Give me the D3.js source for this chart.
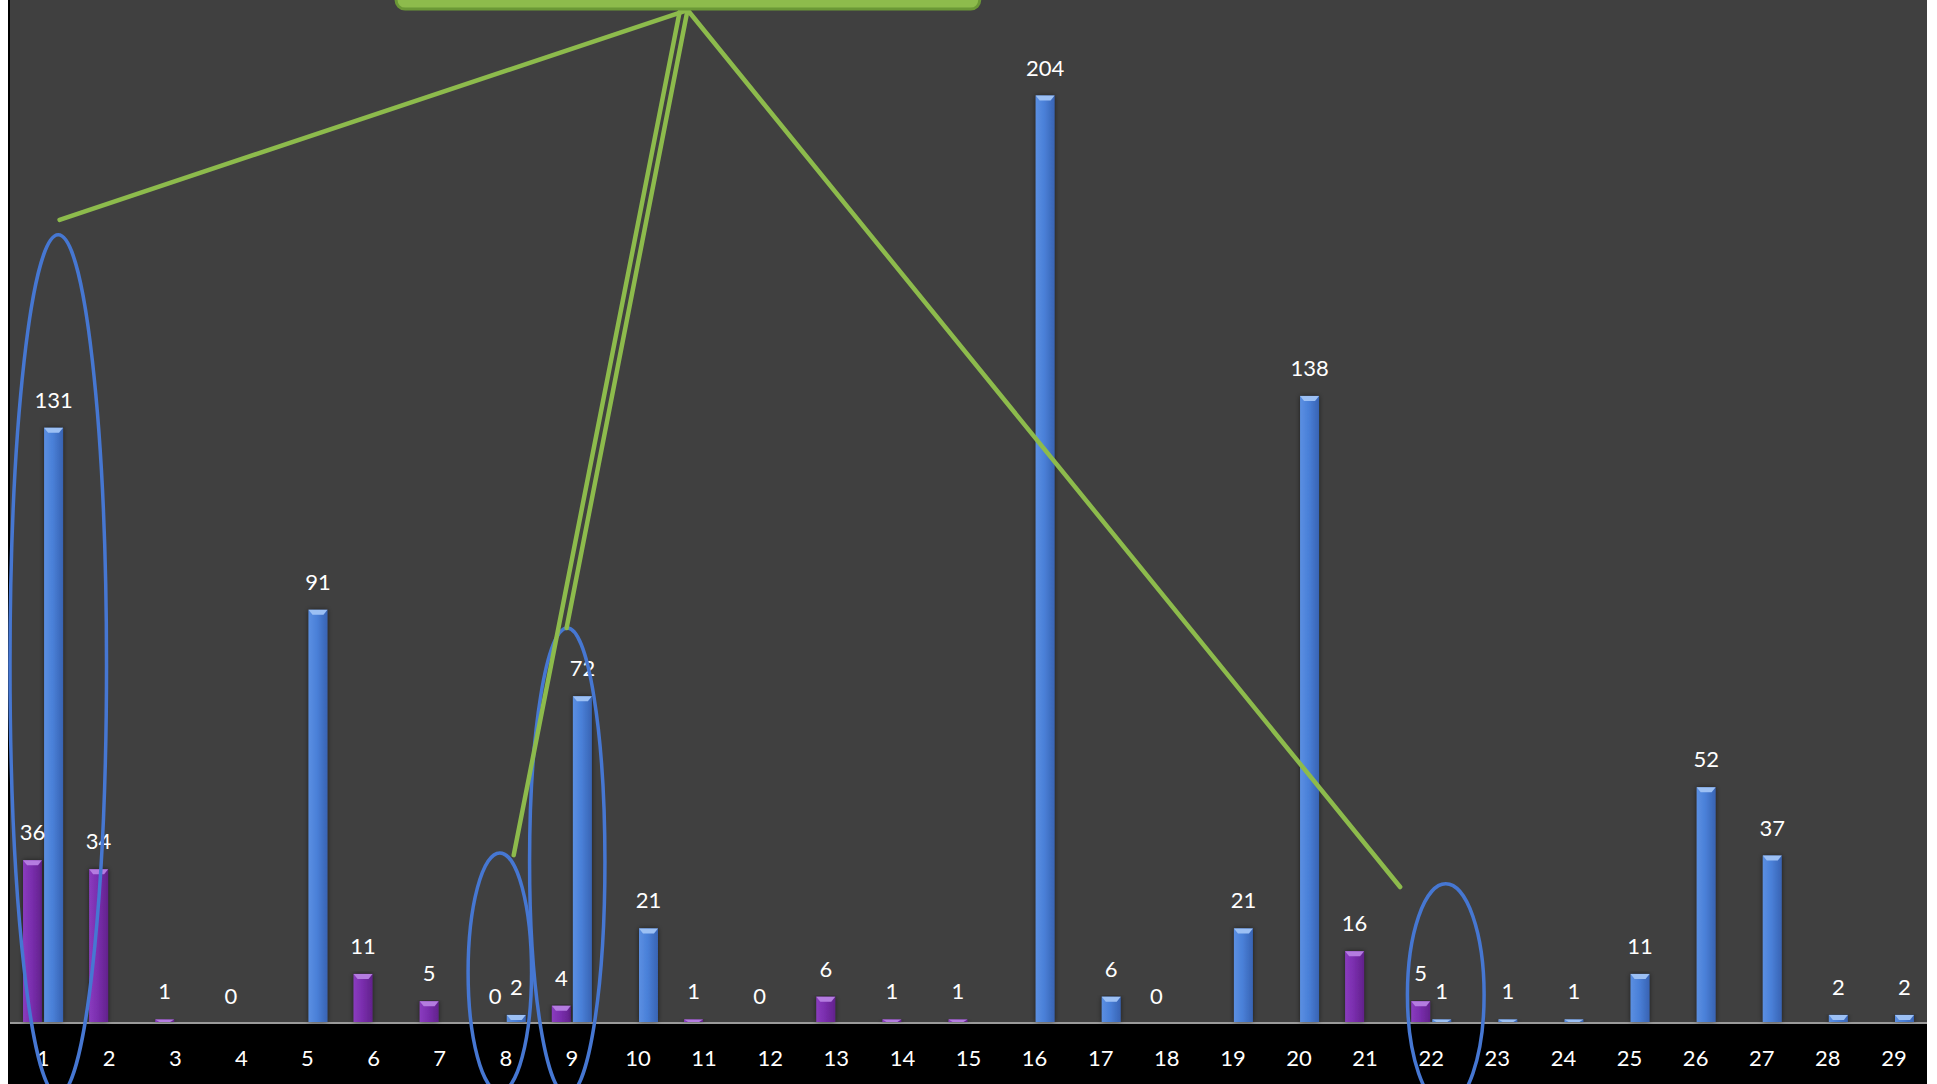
<!DOCTYPE html>
<html>
<head>
<meta charset="utf-8">
<script src="https://cdn.jsdelivr.net/npm/d3@7/dist/d3.min.js"></script>
<style>
  html, body { margin: 0; padding: 0; background: #fff; }
  svg { display: block; }
  text { font-family: Lato, "Open Sans", sans-serif; fill: #fff; }
</style>
</head>
<body>
<svg id="chart"></svg>
<script>
// categories along the bottom
var categories = ["1","2","3","4","5","6","7","8","9","10","11","12","13","14","15",
  "16","17","18","19","20","21","22","23","24","25","26","27","28","29"];

// purple series (left bar), null = no bar / no label
var purpleValues = [36, 34, 1, 0, null, 11, 5, 0, 4, null, 1, 0, 6, 1, 1,
  null, null, 0, null, null, 16, 5, null, null, null, null, null, null, null];

// blue series (right bar)
var blueValues = [131, null, null, null, 91, null, null, 2, 72, 21, null, null, null, null, null,
  204, 6, null, 21, 138, null, 1, 1, 1, 11, 52, 37, 2, 2];

var seriesNames = ["purple", "blue"];

// annotations, in band units (t, from left plot edge) and value units (v)
var ellipses = [
  {name: "e1",  cx: 0.73,  rx: 0.73, top: 173.4, bottom: -15.6},
  {name: "e8",  cx: 7.41,  rx: 0.48, top: 37.6,  bottom: -14.9},
  {name: "e9",  cx: 8.43,  rx: 0.57, top: 87.0,  bottom: -15.6},
  {name: "e22", cx: 21.72, rx: 0.58, top: 30.8,  bottom: -18.0}
];
var calloutBox = {t0: 5.84, t1: 14.67, bottom: 223.0};
var connectors = [
  {from: [10.25, 222.8], to: [0.75, 176.7]},
  {from: [10.13, 222.4], to: [7.62, 37.1]},
  {from: [10.25, 222.8], to: [8.42, 87.0]},
  {from: [10.25, 222.8], to: [21.03, 30.1]}
];

var width = 1937, height = 1084;
var plotLeft = 10, plotRight = 1927, baseY = 1024;

var svg = d3.select("#chart").attr("width", width).attr("height", height);

var x = d3.scaleBand().domain(categories).range([plotLeft, plotRight]).padding(0);
var xSub = d3.scaleBand().domain(seriesNames).range([x.bandwidth()/2 - 20, x.bandwidth()/2 + 20]).paddingInner(0.1);
var y = d3.scaleLinear().domain([0, 225]).range([baseY, 0]);

// band units -> px
function bx(t){ return plotLeft + t * x.step(); }

var defs = svg.append("defs");
function barGradient(id, edge, mid, light){
  var g = defs.append("linearGradient").attr("id", id)
    .attr("x1", "0%").attr("x2", "100%").attr("y1", "0%").attr("y2", "0%");
  g.append("stop").attr("offset", "0%").attr("stop-color", light);
  g.append("stop").attr("offset", "45%").attr("stop-color", mid);
  g.append("stop").attr("offset", "100%").attr("stop-color", edge);
}
barGradient("grad-blue", "#3863b3", "#4a80d8", "#5b8fe2");
barGradient("grad-purple", "#62228c", "#7a2eae", "#8a3cbf");
defs.append("filter").attr("id", "shadow")
  .attr("x", "-50%").attr("y", "-5%").attr("width", "200%").attr("height", "110%")
  .append("feDropShadow").attr("dx", 0).attr("dy", 0).attr("stdDeviation", 2.5)
  .attr("flood-color", "#000").attr("flood-opacity", 0.55);

// background
svg.append("rect").attr("x", 0).attr("y", 0).attr("width", width).attr("height", height).attr("fill", "#fff");
svg.append("rect").attr("x", 8).attr("y", 0).attr("width", plotRight - 8).attr("height", height).attr("fill", "#000");
svg.append("rect").attr("x", plotLeft).attr("y", 0).attr("width", plotRight - plotLeft).attr("height", baseY - 1).attr("fill", "#404040");
svg.append("line").attr("x1", plotLeft).attr("x2", plotRight).attr("y1", baseY - 1).attr("y2", baseY - 1)
  .attr("stroke", "#9a9a9a").attr("stroke-width", 2);

// flatten series for drawing
var barData = [];
categories.forEach(function(c, i){
  if (purpleValues[i] != null) barData.push({cat: c, s: "purple", v: purpleValues[i]});
  if (blueValues[i] != null) barData.push({cat: c, s: "blue", v: blueValues[i]});
});

var capColor = {purple: "#b47ce0", blue: "#9cc0f4"};

var bars = svg.append("g").attr("class", "bars");
bars.selectAll(".bar")
  .data(barData.filter(d => d.v > 0))
 .enter().append("g")
  .attr("class", "bar")
  .each(function(d){
    var g = d3.select(this);
    var bx0 = x(d.cat) + xSub(d.s), bw = xSub.bandwidth();
    var top = y(d.v), h = baseY - 2 - top;
    g.append("rect")
      .attr("x", bx0).attr("y", top).attr("width", bw).attr("height", Math.max(h, 2))
      .attr("fill", "url(#grad-" + d.s + ")")
      .attr("filter", "url(#shadow)");
    var capH = Math.min(5, Math.max(h, 2));
    g.append("polygon")
      .attr("points", [[bx0, top], [bx0 + bw, top], [bx0 + bw - 4, top + capH], [bx0 + 4, top + capH]].map(p => p.join(",")).join(" "))
      .attr("fill", capColor[d.s]);
  });

// data labels
svg.append("g").selectAll(".dataLabel")
  .data(barData)
 .enter().append("text")
  .attr("class", "dataLabel")
  .attr("x", d => x(d.cat) + xSub(d.s) + xSub.bandwidth()/2)
  .attr("y", d => y(d.v) - 20)
  .attr("text-anchor", "middle")
  .style("font-size", "22px")
  .text(d => d.v);

// category axis
var axis = svg.append("g").attr("transform", "translate(0," + baseY + ")")
  .call(d3.axisBottom(x).tickSize(0).tickPadding(0));
axis.select(".domain").remove();
axis.selectAll("text")
  .attr("y", 42)
  .attr("dy", 0)
  .style("font-size", "22px")
  .style("font-family", "Lato, 'Open Sans', sans-serif")
  .attr("fill", "#fff");

// ellipses
svg.append("g").selectAll(".ring")
  .data(ellipses)
 .enter().append("ellipse")
  .attr("class", "ring")
  .attr("cx", d => bx(d.cx))
  .attr("cy", d => (y(d.top) + y(d.bottom)) / 2)
  .attr("rx", d => d.rx * x.step())
  .attr("ry", d => (y(d.bottom) - y(d.top)) / 2)
  .attr("fill", "none")
  .attr("stroke", "#4677d2")
  .attr("stroke-width", 3.5);

// callout connectors
svg.append("g").selectAll(".connector")
  .data(connectors)
 .enter().append("line")
  .attr("class", "connector")
  .attr("x1", d => bx(d.from[0])).attr("y1", d => y(d.from[1]))
  .attr("x2", d => bx(d.to[0])).attr("y2", d => y(d.to[1]))
  .attr("stroke", "#8dbb4c")
  .attr("stroke-width", 4.5)
  .attr("stroke-linecap", "round");

// callout box (top is off the picture)
svg.append("rect")
  .attr("x", bx(calloutBox.t0))
  .attr("y", y(calloutBox.bottom) - 60)
  .attr("width", bx(calloutBox.t1) - bx(calloutBox.t0))
  .attr("height", 60)
  .attr("rx", 9)
  .attr("fill", "#8dbb4c")
  .attr("stroke", "#6b9836")
  .attr("stroke-width", 3);
</script>
</body>
</html>
